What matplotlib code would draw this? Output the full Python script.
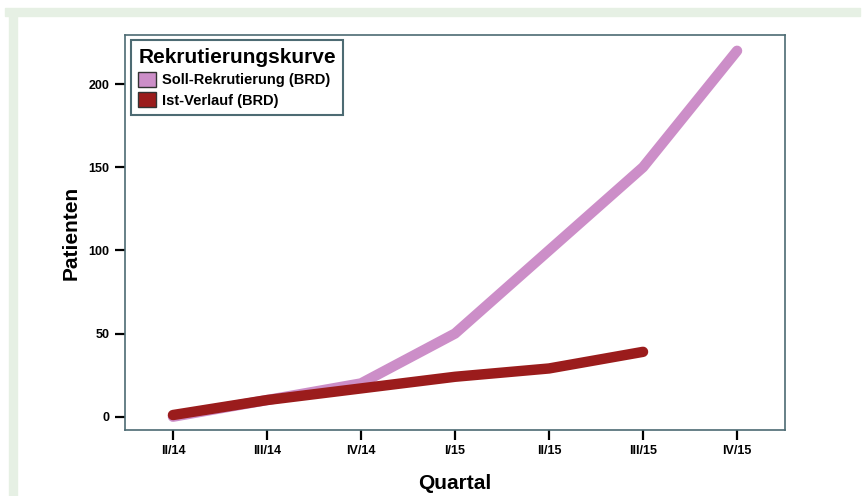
import matplotlib.pyplot as plt
import matplotlib.patches as mpatches
import numpy as np

quarters = ["II/14", "III/14", "IV/14", "I/15", "II/15", "III/15", "IV/15"]
soll = [0, 10, 20, 50, 100, 150, 220]
ist = [1, 10, 17, 24, 29, 39]

soll_color = "#cc8ec8"
ist_color = "#9b1c1c"
frame_color = "#4d6b73"

plt.rcParams["font.family"] = ["Liberation Sans", "DejaVu Sans"]

fig = plt.figure(figsize=(8.63, 4.96), dpi=100)

# light green page frame
fig.patches.append(mpatches.Rectangle((5 / 863, 1 - 16 / 496), 855 / 863, 8 / 496,
                                      transform=fig.transFigure, color="#e6f0e4", zorder=0))
fig.patches.append(mpatches.Rectangle((9 / 863, 0), 8 / 863, 1 - 16 / 496,
                                      transform=fig.transFigure, color="#e6f0e4", zorder=0))

ax = fig.add_axes([125 / 863, 1 - 430 / 496, 660 / 863, 395 / 496])

x = np.arange(len(quarters))
ax.plot(x, soll, color=soll_color, lw=7.5, solid_capstyle="round", solid_joinstyle="round", zorder=2)
ax.plot(x[:len(ist)], ist, color=ist_color, lw=7.5, solid_capstyle="round", solid_joinstyle="round", zorder=3)

ax.set_xlim(-0.51, 6.51)
ax.set_ylim(-8, 229.5)
ax.set_xticks(x)
ax.set_xticklabels(quarters, fontsize=9, fontweight="bold")
ax.set_yticks([0, 50, 100, 150, 200])
ax.set_yticklabels(["0", "50", "100", "150", "200"], fontsize=9, fontweight="bold")
ax.tick_params(direction="out", length=7, width=1.6, color="black", pad=4)

for s in ax.spines.values():
    s.set_color(frame_color)
    s.set_linewidth(1.2)

ax.set_xlabel("Quartal", fontsize=15, fontweight="bold", labelpad=12)
ax.set_ylabel("Patienten", fontsize=15, fontweight="bold", labelpad=6)

handles = [mpatches.Patch(facecolor=soll_color, edgecolor="#333333", label="Soll-Rekrutierung (BRD)"),
           mpatches.Patch(facecolor=ist_color, edgecolor="#333333", label="Ist-Verlauf (BRD)")]
leg = ax.legend(handles=handles, title="Rekrutierungskurve", loc="upper left",
                bbox_to_anchor=(-0.002, 1.005), fontsize=10.5, title_fontproperties={"weight": "bold", "size": 15},
                handlelength=1.2, handleheight=1.2, handletextpad=0.4, borderpad=0.5,
                labelspacing=0.35, fancybox=False, framealpha=1, edgecolor=frame_color)
leg._legend_box.align = "left"
leg.get_frame().set_linewidth(1.5)
for t in leg.get_texts():
    t.set_fontweight("bold")

fig.savefig("out.png", dpi=100)
